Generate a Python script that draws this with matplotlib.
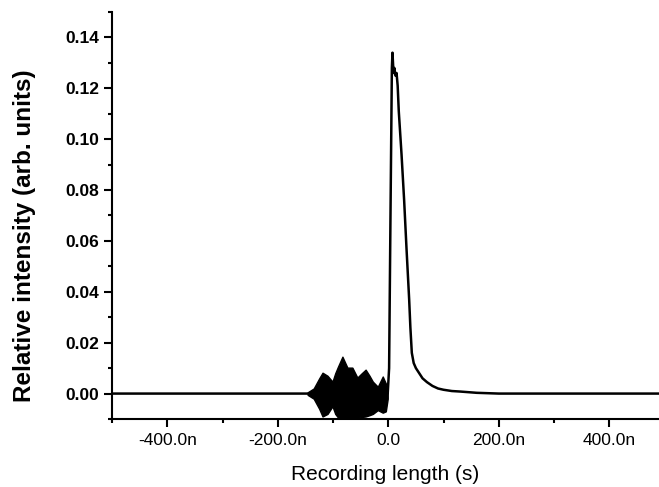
import matplotlib
matplotlib.use("Agg")
import matplotlib.pyplot as plt
import numpy as np
from matplotlib.ticker import MultipleLocator, FuncFormatter

plt.rcParams['font.family'] = ['Liberation Sans', 'DejaVu Sans']

# main trace (time in ns, relative intensity)
t_ns = [-500, -300, -150, -5, -1, 1.5, 4, 6.5, 7.6, 9.5, 11, 13, 15, 17, 19,
        24, 28.7, 33, 37.8, 40, 42.6, 46, 50, 56, 62, 70, 80, 90, 100, 115,
        130, 160, 200, 300, 400, 490]
signal = [0.0, 0.0, 0.0, 0.0, 0.0, 0.01, 0.07, 0.128, 0.134, 0.126, 0.128,
          0.125, 0.126, 0.121, 0.111, 0.094, 0.076, 0.057, 0.037, 0.026,
          0.016, 0.012, 0.010, 0.008, 0.006, 0.0045, 0.003, 0.002, 0.0015,
          0.001, 0.0008, 0.0003, 0.0, 0.0, 0.0, 0.0]

# oscillating burst before the pulse: upper and lower envelope
burst_t = [-146, -135, -125, -119, -110, -101, -96, -91, -83, -74, -65,
           -56, -48, -41, -34, -28, -19, -10, -4.5, -1]
burst_hi = [0.0005, 0.002, 0.006, 0.0082, 0.007, 0.0047, 0.008, 0.0106,
            0.0145, 0.0102, 0.0102, 0.0063, 0.008, 0.0094, 0.007, 0.0047,
            0.0027, 0.0067, 0.004, 0.002]
burst_lo = [-0.0005, -0.002, -0.006, -0.009, -0.008, -0.005, -0.008,
            -0.0094, -0.0095, -0.0095, -0.0095, -0.0095, -0.0092, -0.009,
            -0.0085, -0.008, -0.0065, -0.0075, -0.007, -0.002]

fig = plt.figure(figsize=(6.59, 4.87), dpi=100)
ax = fig.add_axes([0.170, 0.1396, 0.830, 0.8358])

ax.plot(np.array(t_ns) * 1e-9, signal, color='black', lw=1.8)
ax.fill_between(np.array(burst_t) * 1e-9, burst_lo, burst_hi,
                color='black', lw=1.0, edgecolor='black')

ax.set_xlim(-500e-9, 490e-9)
ax.set_ylim(-0.01, 0.15)

ax.xaxis.set_major_locator(MultipleLocator(200e-9))
ax.xaxis.set_minor_locator(MultipleLocator(100e-9))
ax.yaxis.set_major_locator(MultipleLocator(0.02))
ax.yaxis.set_minor_locator(MultipleLocator(0.01))


def fmt_ns(v, pos):
    n = v * 1e9
    if abs(n) < 1e-6:
        return '0.0'
    return '%.1fn' % n


ax.xaxis.set_major_formatter(FuncFormatter(fmt_ns))
ax.yaxis.set_major_formatter(FuncFormatter(lambda v, p: '%.2f' % v))

for s in ['top', 'right']:
    ax.spines[s].set_visible(False)
for s in ['left', 'bottom']:
    ax.spines[s].set_linewidth(1.5)

ax.tick_params(which='major', direction='out', length=6, width=1.5)
ax.tick_params(which='minor', direction='out', length=3, width=1.5)
ax.tick_params(axis='x', labelsize=12.5, pad=4)
ax.tick_params(axis='y', labelsize=12.5, pad=3)
for lab in ax.get_yticklabels():
    lab.set_fontweight('bold')

ax.set_xlabel('Recording length (s)', fontsize=15)
ax.set_ylabel('Relative intensity (arb. units)', fontsize=17.5,
              fontweight='bold')
ax.xaxis.set_label_coords(0.5, -0.113)
ax.yaxis.set_label_coords(-0.139, 0.45)

fig.savefig('out.png', dpi=100)
